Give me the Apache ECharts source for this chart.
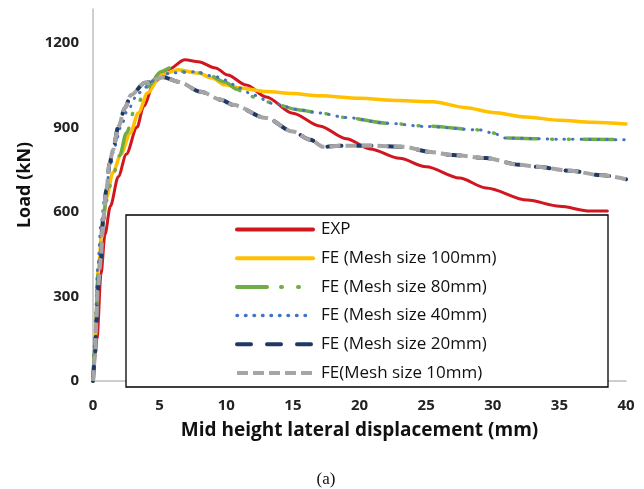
<!DOCTYPE html>
<html>
<head>
  <meta charset="utf-8" />
  <title>Load vs mid height lateral displacement</title>
  <style>
    html, body { margin: 0; padding: 0; background: #fff; }
    #chart { width: 644px; height: 489px; }
  </style>
  <script src="https://cdn.jsdelivr.net/npm/echarts@6/dist/echarts.min.js"></script>
</head>
<body>
  <div id="chart"></div>
<script type="text/javascript">
    // [displacement (mm), load (kN)]
    var expData = [[0,0],[0.3,150],[0.6,380],[0.9,520],[1.3,620],[1.9,725],[2.5,805],[3.3,900],[3.8,975],[4.6,1060],[5.6,1104],[6.9,1140],[7.9,1133],[9.2,1111],[10.1,1086],[11.5,1050],[13,1008],[15,950],[17,905],[19,860],[20.8,823],[23,790],[25,760],[27.5,720],[29.5,685],[32.6,642],[35,620],[37.3,603],[38.6,603]];
    var mesh100 = [[0,0],[0.15,140],[0.4,400],[0.7,560],[1.0,650],[1.5,740],[2.1,805],[2.8,880],[3.4,951],[4.1,1022],[5.1,1086],[6.4,1104],[7.9,1093],[8.9,1076],[9.9,1051],[11,1040],[13,1027],[15,1020],[17,1012],[20,1003],[23,995],[25.5,991],[28,970],[30,953],[32.5,937],[35,925],[37.5,918],[40,912]];
    var mesh80 = [[0,0],[0.15,130],[0.4,390],[0.7,550],[1.0,640],[1.5,730],[2.0,800],[2.5,880],[3.2,973],[4.1,1044],[5.1,1097],[5.8,1111],[6.9,1097],[8.4,1093],[9.9,1061],[10.8,1035],[11.5,1015],[13,990],[15.5,962],[17,951],[19,935],[22,915],[25,905],[29,891],[30,880],[31,862],[35,858],[40,856]];
    var mesh40 = [[0,0],[0.12,140],[0.35,400],[0.6,560],[0.9,660],[1.3,760],[1.6,830],[2.1,902],[2.6,962],[3.4,1022],[4.6,1067],[5.8,1093],[7.6,1097],[9.2,1080],[9.9,1068],[11,1040],[12,1015],[13.5,985],[15.5,962],[17,951],[19,935],[22,915],[25,903],[29,891],[30,880],[31,862],[35,858],[40,856]];
    var mesh20 = [[0,0],[0.15,85],[0.25,206],[0.35,323],[0.6,437],[0.75,571],[1.0,678],[1.25,773],[1.5,820],[1.9,902],[2.4,969],[2.85,1015],[3.9,1058],[5.3,1078],[6.4,1062],[8.1,1026],[9.6,998],[10.5,980],[13,933],[15,885],[16.3,856],[17.3,831],[18.5,835],[20.8,835],[23.3,831],[25.3,813],[27,802],[29.5,791],[32,767],[33.3,760],[35.8,746],[38,731],[40,716]];
    var mesh10 = [[0,0],[0.15,85],[0.25,206],[0.35,323],[0.6,437],[0.75,571],[1.0,678],[1.25,773],[1.5,820],[1.9,902],[2.4,969],[2.85,1015],[3.9,1058],[5.3,1078],[6.4,1062],[8.1,1026],[9.6,998],[10.5,980],[13,933],[15,885],[16.3,856],[17.3,831],[18.5,835],[20.8,835],[23.3,831],[25.3,813],[27,802],[29.5,791],[32,767],[33.3,760],[35.8,746],[38,731],[40,716]];

    var seriesNames = ['EXP', 'FE (Mesh size 100mm)', 'FE (Mesh size 80mm)', 'FE (Mesh size 40mm)', 'FE (Mesh size 20mm)', 'FE(Mesh size 10mm)'];
    var seriesData = [expData, mesh100, mesh80, mesh40, mesh20, mesh10];

    var lineStyles = [
        { color: '#d0161f', width: 3, type: 'solid', cap: 'round' },
        { color: '#ffc000', width: 3.5, type: 'solid', cap: 'round' },
        { color: '#70ad47', width: 3.5, type: [30, 14, 1, 16, 1, 14], cap: 'round' },
        { color: '#4472c4', width: 3, type: [0.5, 8], cap: 'round' },
        { color: '#1f3864', width: 4, type: [14, 16], cap: 'round' },
        { color: '#a5a5a5', width: 4, type: [11, 5], cap: 'butt' }
    ];

    var chart = echarts.init(document.getElementById('chart'));

    var series = seriesNames.map(function (name, i) {
        return {
            name: name,
            type: 'line',
            data: seriesData[i],
            showSymbol: false,
            symbol: 'none',
            smooth: 0.3,
            smoothMonotone: 'x',
            lineStyle: lineStyles[i],
            itemStyle: { color: lineStyles[i].color },
            emphasis: { disabled: true }
        };
    });

    // legend samples are drawn a bit thicker than the plotted lines
    var legendData = seriesNames.map(function (name, i) {
        return { name: name, lineStyle: { width: i === 3 ? 3.5 : 4 } };
    });

    var option = {
        animation: false,
        textStyle: { fontFamily: 'Open Sans' },
        grid: { left: 93, right: 18, top: 9, bottom: 108 },
        xAxis: {
            type: 'value',
            min: 0,
            max: 40,
            interval: 5,
            name: 'Mid height lateral displacement (mm)',
            nameLocation: 'middle',
            nameGap: 40,
            nameTextStyle: { fontFamily: 'Open Sans', fontWeight: 'bold', fontSize: 19, color: '#111' },
            axisLine: { lineStyle: { color: '#bfbfbf', width: 1.5 } },
            axisTick: { show: false },
            splitLine: { show: false },
            axisLabel: { margin: 17, fontFamily: 'Open Sans', fontWeight: 'bold', fontSize: 15, color: '#222' }
        },
        yAxis: {
            type: 'value',
            min: 0,
            max: 1320,
            interval: 300,
            name: 'Load (kN)',
            nameLocation: 'middle',
            nameGap: 56,
            nameTextStyle: { fontFamily: 'Open Sans', fontWeight: 'bold', fontSize: 18, color: '#111', padding: [0, 0, 0, 20] },
            axisLine: { show: true, lineStyle: { color: '#bfbfbf', width: 1.5 } },
            axisTick: { show: false },
            splitLine: { show: false },
            axisLabel: {
                margin: 14,
                showMaxLabel: false,
                fontFamily: 'Open Sans',
                fontWeight: 'bold',
                fontSize: 15,
                color: '#222',
                formatter: function (v) { return String(v); }
            }
        },
        legend: {
            orient: 'vertical',
            left: 235,
            top: 221,
            padding: 0,
            itemWidth: 76,
            itemHeight: 17,
            itemGap: 11.7,
            z: 10,
            itemStyle: { opacity: 0 },
            textStyle: { fontFamily: 'Open Sans', fontSize: 17, lineHeight: 17, color: '#111', padding: [0, 0, 0, 3] },
            data: legendData
        },
        graphic: [
            {
                type: 'rect',
                z: 5,
                shape: { x: 126, y: 215, width: 482, height: 172 },
                style: { fill: '#fff', stroke: '#000', lineWidth: 1.3 }
            },
            {
                type: 'text',
                z: 5,
                x: 326,
                y: 480,
                style: { text: '(a)', fontFamily: 'Liberation Serif', fontSize: 17, fill: '#111', align: 'center', verticalAlign: 'middle' }
            }
        ],
        series: series
    };

    option && chart.setOption(option);
</script>
</body>
</html>
